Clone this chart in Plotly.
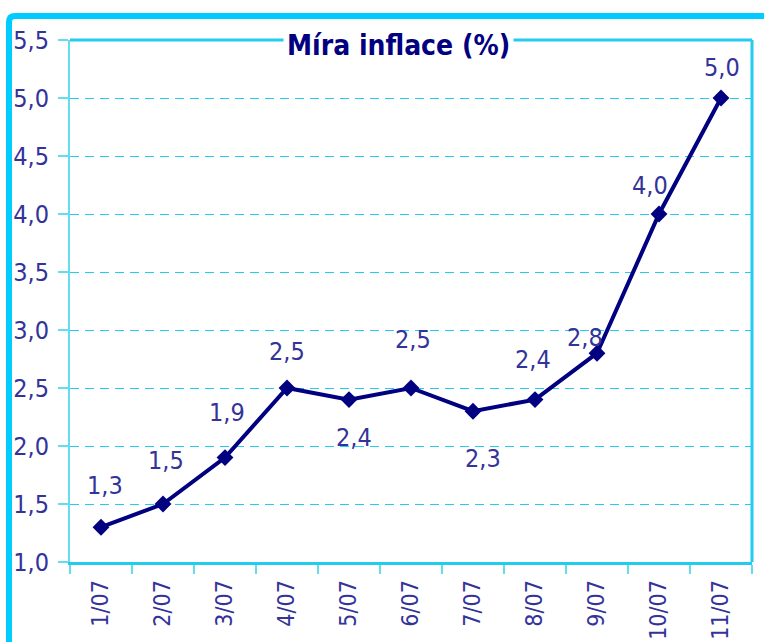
import plotly.graph_objects as go

categories = ["1/07", "2/07", "3/07", "4/07", "5/07", "6/07", "7/07", "8/07", "9/07", "10/07", "11/07"]
inflation = [1.3, 1.5, 1.9, 2.5, 2.4, 2.5, 2.3, 2.4, 2.8, 4.0, 5.0]
y_ticks = [1.0, 1.5, 2.0, 2.5, 3.0, 3.5, 4.0, 4.5, 5.0, 5.5]
title_text = "Míra inflace (%)"

# label offsets (pixels) – styling
label_dx = [4, 3, 2, 0, 5, 2, 10, -2, -12, -9, 1]
label_dy = [42, 44, 45, 37, -38, 49, -47, 40, 16, 29, 31]

W, H = 764, 642
L, R, T, B = 70, 12, 40, 80
PW, PH = W - L - R, H - T - B

def px(x):
    return (x - L) / PW

def py(y):
    return (H - B - y) / PH

FONT = "Liberation Sans Narrow, Arial Narrow, DejaVu Sans Condensed, Roboto Condensed, sans-serif"
LBL = "#333399"
NAVY = "#000080"
CYAN = "#00CCFF"

fig = go.Figure()
fig.add_trace(go.Scatter(
    x=categories, y=inflation, mode="lines+markers",
    line=dict(color=NAVY, width=4),
    marker=dict(symbol="diamond", size=13, color=NAVY),
    cliponaxis=False, hoverinfo="skip",
))

annotations = []
for c, v, dx, dy in zip(categories, inflation, label_dx, label_dy):
    annotations.append(dict(
        x=c, y=v, xref="x", yref="y", text=f"{v:.1f}".replace(".", ","),
        showarrow=False, xshift=dx, yshift=dy,
        font=dict(family=FONT, size=25, color=LBL),
    ))
annotations.append(dict(
    x=px(398), y=py(46), xref="paper", yref="paper", text=f"<b>{title_text}</b>",
    xanchor="center", yanchor="middle",
    showarrow=False, bgcolor="white", borderpad=3,
    font=dict(family=FONT, size=28, color=NAVY),
))

shapes = [
    # outer frame (top + left), cropped on right and bottom
    dict(type="path", xref="paper", yref="paper",
         path=f"M {px(9)},{py(700)} L {px(9)},{py(22)} Q {px(9)},{py(16)} {px(15)},{py(16)} L {px(800)},{py(16)}",
         line=dict(color=CYAN, width=6), layer="above"),
    # plot box top and right
    dict(type="line", xref="paper", yref="paper", x0=0, x1=1, y0=1, y1=1,
         line=dict(color="#22CCEE", width=3), layer="below"),
    dict(type="line", xref="paper", yref="paper", x0=1, x1=1, y0=0, y1=1,
         line=dict(color="#22CCEE", width=3), layer="below"),
]

fig.update_layout(
    width=W, height=H,
    margin=dict(l=L, r=R, t=T, b=B, autoexpand=False),
    paper_bgcolor="white", plot_bgcolor="white",
    separators=", ",
    showlegend=False,
    annotations=annotations,
    shapes=shapes,
    xaxis=dict(
        type="category", range=[-0.5, 10.5], automargin=False,
        showgrid=False, showline=True, linecolor="#22CCEE", linewidth=3,
        ticks="outside", ticklen=9, tickcolor="#66DDEE", tickwidth=2,
        tickson="boundaries", tickangle=-90, ticklabelstandoff=6,
        tickfont=dict(family=FONT, size=23, color=LBL),
        zeroline=False,
    ),
    yaxis=dict(
        range=[1.0, 5.5], tickvals=y_ticks, tickformat=".1f", automargin=False,
        showgrid=True, gridcolor="#22CCEE", griddash="9px,6px", gridwidth=1,
        showline=True, linecolor="#66DDEE", linewidth=2,
        ticks="outside", ticklen=10, tickcolor="#66DDEE", tickwidth=2,
        ticklabelstandoff=4,
        tickfont=dict(family=FONT, size=25, color=LBL),
        zeroline=False,
    ),
)

fig.write_html(
    "out.html",
    config={"displayModeBar": False},
    post_script="document.body.style.margin='0';document.body.style.overflow='hidden';",
)
